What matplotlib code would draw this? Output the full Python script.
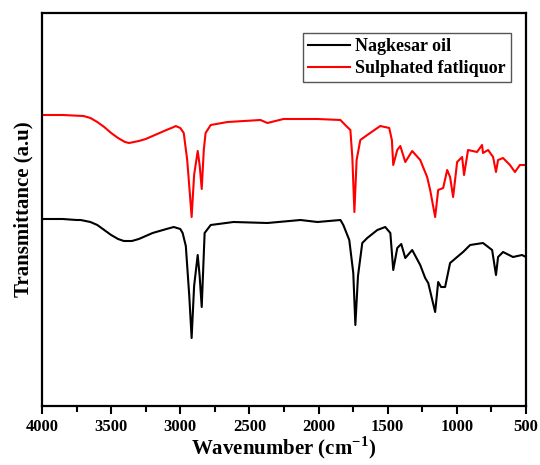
import matplotlib
matplotlib.use("Agg")
import matplotlib.pyplot as plt
from matplotlib.ticker import MultipleLocator

plt.rcParams['font.family'] = ['Liberation Serif', 'DejaVu Serif']
plt.rcParams['font.weight'] = 'bold'
plt.rcParams['mathtext.fontset'] = 'custom'
plt.rcParams['mathtext.rm'] = 'Liberation Serif:bold'
plt.rcParams['mathtext.bf'] = 'Liberation Serif:bold'

# Nagkesar oil (black)
oil_wn = [4000, 3850, 3750, 3720, 3650, 3600, 3550, 3500, 3450, 3408, 3350, 3300,
          3250, 3200, 3150, 3100, 3047, 3000, 2983,
          2960, 2935, 2918, 2900, 2874, 2860, 2845, 2824, 2780, 2615, 2370, 2131,
          2008, 1842, 1821, 1778, 1749, 1734, 1715, 1684, 1648, 1575, 1518, 1481,
          1460, 1431, 1402, 1373, 1323, 1265, 1229, 1207, 1157, 1135, 1114, 1085,
          1049, 998, 955, 904, 811, 745, 717, 702, 666, 594, 529, 500]
oil_t = [187, 187, 186, 186, 184, 181, 176, 171, 167, 165, 165, 167,
         170, 173, 175, 177, 179, 177, 173,
         160, 110, 68, 120, 151, 130, 99, 173, 181, 184, 183, 186,
         184, 186, 181, 166, 133, 81, 130, 163, 168, 176, 179, 173,
         136, 158, 162, 148, 156, 141, 128, 123, 94, 124, 119, 119,
         143, 149, 154, 161, 163, 156, 131, 149, 154, 149, 151, 149]

# Sulphated fatliquor (red)
fat_wn = [4000, 3850, 3700, 3650, 3600, 3550, 3500, 3450, 3400, 3370, 3300, 3250,
          3200, 3150, 3100, 3047, 3033,
          3000, 2975, 2950, 2930, 2918, 2900, 2874, 2860, 2845, 2830, 2817, 2780,
          2658, 2420, 2370, 2254, 2008, 1842, 1800, 1770, 1756, 1741, 1725, 1698,
          1648, 1554, 1489, 1470, 1460, 1431, 1409, 1373, 1323, 1265, 1215, 1193,
          1157, 1135, 1099, 1070, 1049, 1027, 998, 962, 948, 919, 854, 818, 811,
          774, 738, 717, 702, 666, 616, 580, 544, 500]
fat_t = [291, 291, 290, 288, 284, 279, 273, 268, 264, 263, 265, 267,
         270, 273, 276, 279, 280,
         278, 273, 246, 211, 189, 231, 255, 241, 217, 256, 273, 281,
         284, 286, 283, 287, 287, 286, 280, 276, 249, 194, 246, 266,
         271, 280, 278, 266, 241, 256, 260, 244, 255, 246, 229, 216,
         189, 216, 218, 236, 229, 209, 244, 249, 231, 256, 254, 261, 253,
         256, 249, 234, 246, 248, 241, 234, 241, 241]

labels = ['Nagkesar oil', 'Sulphated fatliquor']
colors = ['black', '#ff0000']

fig = plt.figure(figsize=(5.4, 4.65), dpi=100)
ax = fig.add_axes([42/540, 1 - 406/465, (526 - 42)/540, (406 - 13)/465])

ax.plot(oil_wn, oil_t, color=colors[0], lw=1.5, label=labels[0])
ax.plot(fat_wn, fat_t, color=colors[1], lw=1.5, label=labels[1])

ax.set_xlim(4000, 500)
ax.set_ylim(0, 393)
ax.xaxis.set_major_locator(MultipleLocator(500))
ax.xaxis.set_minor_locator(MultipleLocator(250))
ax.tick_params(axis='x', which='major', direction='out', length=6, width=1.5,
               labelsize=12, pad=3)
ax.tick_params(axis='x', which='minor', direction='out', length=4, width=1.5)
ax.set_yticks([])
for lab in ax.get_xticklabels():
    lab.set_fontweight('bold')
for s in ax.spines.values():
    s.set_linewidth(1.6)

ax.set_xlabel(r'Wavenumber (cm$^{\mathbf{-1}}$)', fontsize=15, fontweight='bold', labelpad=0)
ax.set_ylabel('Transmittance (a.u)', fontsize=15, fontweight='bold', labelpad=6)

leg = ax.legend(loc='upper right', bbox_to_anchor=((511 - 42)/484, (406 - 33)/393),
                borderaxespad=0, fancybox=False, framealpha=1, edgecolor='#555555',
                prop={'family': 'Liberation Serif', 'weight': 'bold', 'size': 13},
                handlelength=2.3, handletextpad=0.3, labelspacing=0.25,
                borderpad=0.3)
leg.get_frame().set_linewidth(1.0)

fig.savefig('out.png', dpi=100)
